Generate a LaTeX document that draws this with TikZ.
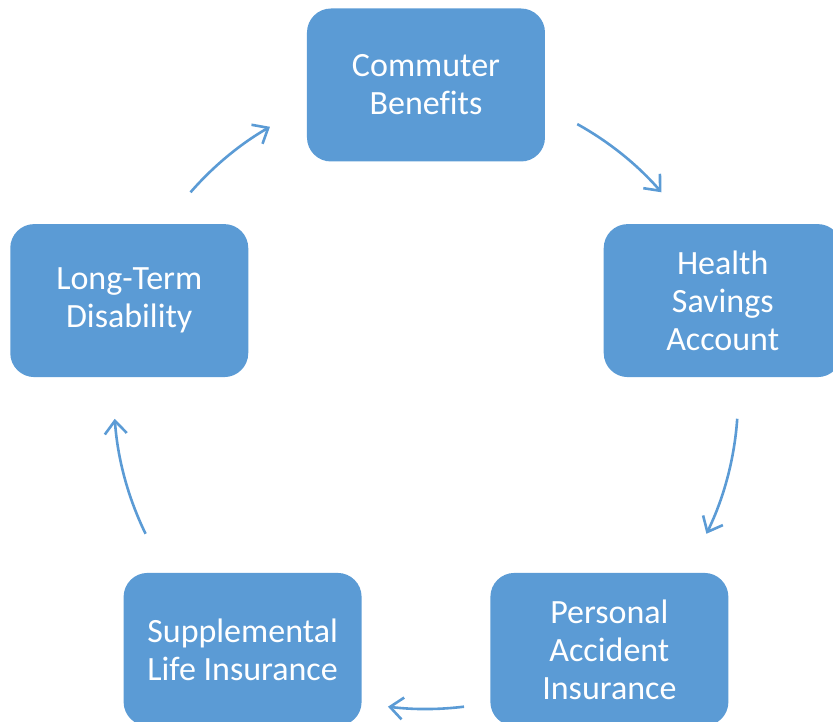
\documentclass[tikz,border=0pt]{standalone}
\usepackage{fontspec}
\setmainfont{Carlito}[Ligatures=NoCommon]
\usepackage{xcolor}
\usetikzlibrary{arrows.meta}
\definecolor{boxblue}{HTML}{5B9BD5}
\tikzset{
	stage/.style={draw=none, fill=boxblue, rounded corners=24pt, minimum width=238pt, minimum height=153pt, text=white, align=center, font=\fontsize{34}{38}\selectfont},
	cyc/.style={draw=boxblue, line width=2.6pt, -{Straight Barb[length=13pt,width=22pt]}}
}
\begin{document}
\begin{tikzpicture}[x=1pt, y=1pt]
		\useasboundingbox (-426,-325) rectangle (407,397);
		\node[stage] (commuter) at (90:312) {Commuter\\Benefits};
		\node[stage] (health) at (18:312) {Health\\Savings\\Account};
		\node[stage] (accident) at (-54:312) {Personal\\Accident\\Insurance};
		\node[stage] (life) at (-126:312) {Supplemental\\Life Insurance};
		\node[stage] (disability) at (162:312) {Long-Term\\Disability};
		% ARROWS
		\coordinate (a1) at (61:312);
		\coordinate (a2) at (-4:312);
		\coordinate (a3) at (-83:312);
		\coordinate (a4) at (206:312);
		\coordinate (a5) at (139:312);
		\draw[cyc] (a1) arc[start angle=61, end angle=41, radius=312];
		\draw[cyc] (a2) arc[start angle=-4, end angle=-26, radius=312];
		\draw[cyc] (a3) arc[start angle=-83, end angle=-97, radius=312];
		\draw[cyc] (a4) arc[start angle=206, end angle=184, radius=312];
		\draw[cyc] (a5) arc[start angle=139, end angle=120, radius=312];
	\end{tikzpicture}
\end{document}
